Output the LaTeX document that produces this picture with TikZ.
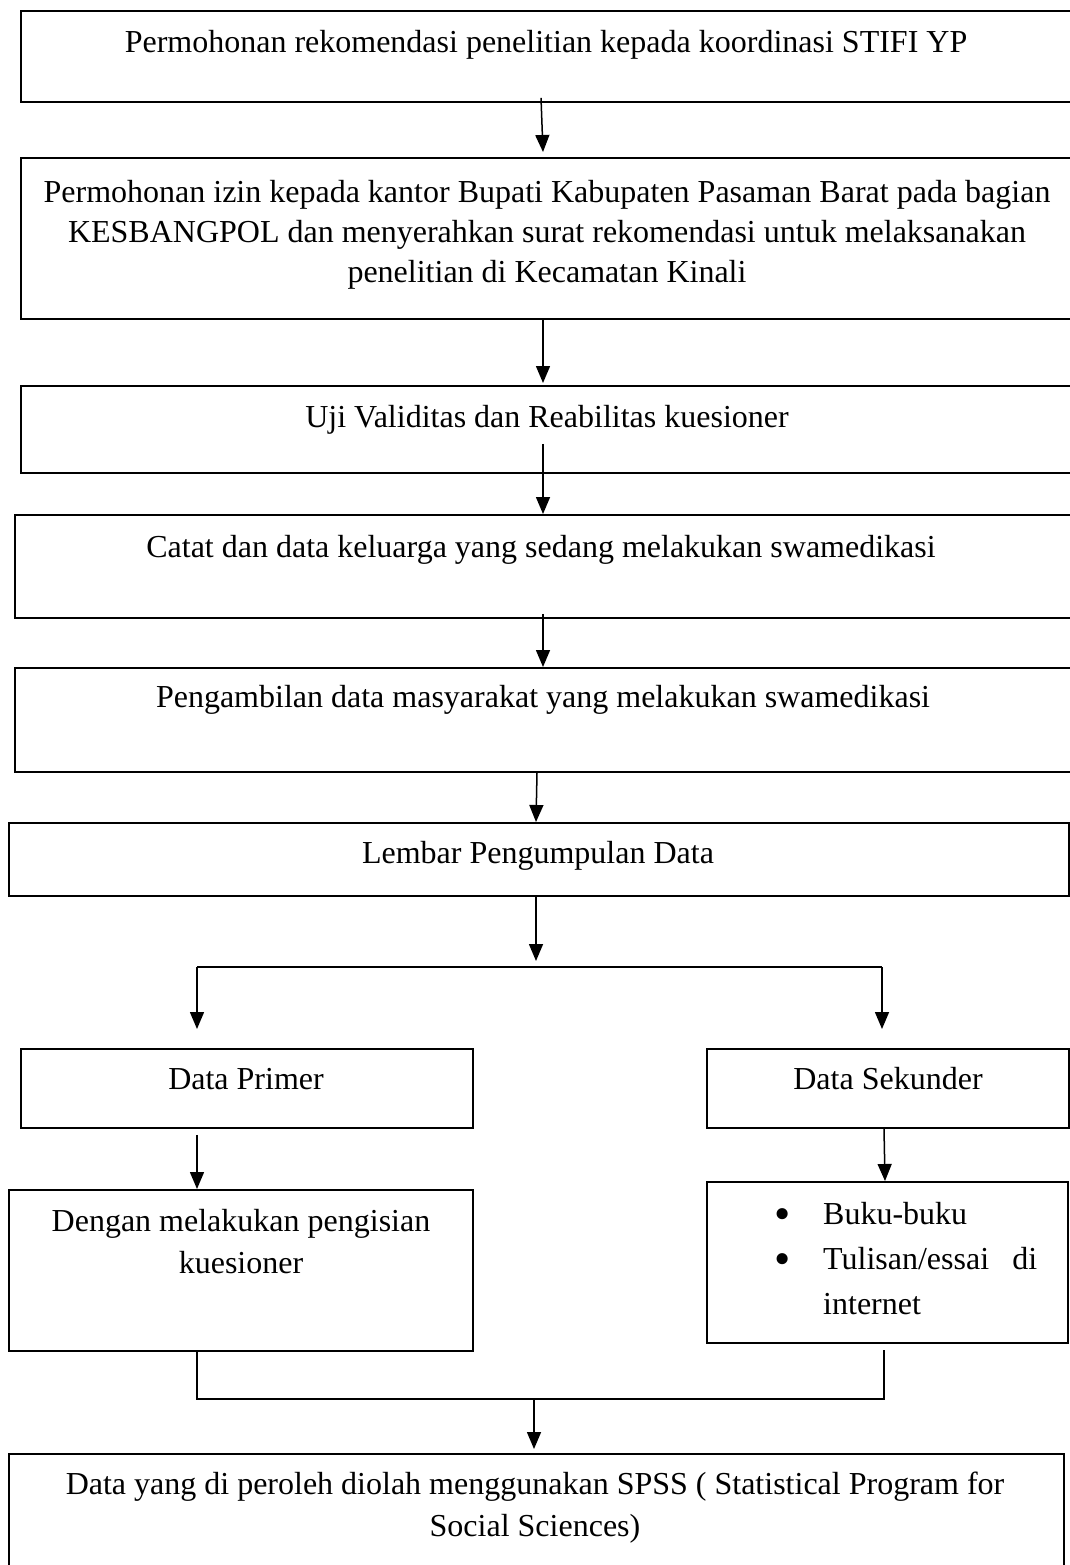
\documentclass[tikz,border=0pt]{standalone}
\usepackage{fontspec}
\setmainfont{Liberation Serif}
\usetikzlibrary{arrows.meta,calc}
\newcommand\mybul{\makebox[48pt][l]{\hspace*{-1pt}\raisebox{-5pt}{\scalebox{1.45}{•}}}}
\begin{document}
\begin{tikzpicture}[x=1pt,y=-1pt,
  box/.style={draw, line width=1.8pt, rectangle, inner sep=0pt, anchor=north west},
  lbl/.style={anchor=base, inner sep=0pt, font=\fontsize{32}{40}\selectfont},
  arr/.style={line width=1.5pt, -{Triangle[length=17pt,width=14pt]}},
  ln/.style={line width=1.5pt}]
\useasboundingbox (0,0) rectangle (1070,1565);
\fill[white] (0,0) rectangle (1070,1565);

% boxes
\node[box, minimum width=1055pt, minimum height=91pt]  (b1) at (20,10) {};
\node[box, minimum width=1055pt, minimum height=161pt] (b2) at (20,157) {};
\node[box, minimum width=1055pt, minimum height=87pt]  (b3) at (20,385) {};
\node[box, minimum width=1061pt, minimum height=103pt] (b4) at (14,514) {};
\node[box, minimum width=1061pt, minimum height=104pt] (b5) at (14,667) {};
\node[box, minimum width=1060pt, minimum height=73pt]  (b6) at (8,822) {};
\node[box, minimum width=452pt, minimum height=79pt]   (bP) at (20,1048) {};
\node[box, minimum width=362pt, minimum height=79pt]   (bS) at (706,1048) {};
\node[box, minimum width=464pt, minimum height=161pt]  (bD) at (8,1189) {};
\node[box, minimum width=361pt, minimum height=161pt]  (bB) at (706,1181) {};
\node[box, minimum width=1055pt, minimum height=130pt] (bF) at (8,1453) {};

% texts
\node[lbl] (t1) at (546,53) {Permohonan rekomendasi penelitian kepada koordinasi STIFI YP};
\node[lbl] (t2) at (547,202) {\begin{tabular}[t]{@{}c@{}}Permohonan izin kepada kantor Bupati Kabupaten Pasaman Barat pada bagian\\KESBANGPOL dan menyerahkan surat rekomendasi untuk melaksanakan\\penelitian di Kecamatan Kinali\end{tabular}};
\node[lbl] (t3) at (547,427) {Uji Validitas dan Reabilitas kuesioner};
\node[lbl] (t4) at (541,557) {Catat dan data keluarga yang sedang melakukan swamedikasi};
\node[lbl] (t5) at (543,707) {Pengambilan data masyarakat yang melakukan swamedikasi};
\node[lbl] (t6) at (538,863) {Lembar Pengumpulan Data};
\node[lbl] (tP) at (246,1089) {Data Primer};
\node[lbl] (tS) at (888,1089) {Data Sekunder};
\node[lbl, font=\fontsize{32}{42}\selectfont] (tD) at (241,1231) {\begin{tabular}[t]{@{}c@{}}Dengan melakukan pengisian\\kuesioner\end{tabular}};
\node[lbl, anchor=base west, font=\fontsize{32}{45}\selectfont] (tB) at (775,1224) {\begin{tabular}[t]{@{}l@{}l@{}}\mybul&Buku-buku\\\mybul&\makebox[214pt][s]{Tulisan/essai\hfill di}\\&internet\end{tabular}};
\node[lbl, font=\fontsize{32}{42}\selectfont] (tF) at (535,1494) {\begin{tabular}[t]{@{}c@{}}Data yang di peroleh diolah menggunakan SPSS ( Statistical Program for\\Social Sciences)\end{tabular}};

% junction coordinates
\coordinate (jT) at (536,967);
\coordinate (jL) at (197,967);
\coordinate (jR) at (882,967);
\coordinate (mL) at (197,1399);
\coordinate (mR) at (884,1399);
\coordinate (mC) at (534,1399);

% connectors
\draw[arr] ($(b1.south -| 541,0)+(0,-5)$) -- ($(b2.north -| 543,0)+(0,-5)$);
\draw[arr] (b2.south -| 543,0) -- ($(b3.north -| 543,0)+(0,-2)$);
\draw[arr] ($(b3.south -| 543,0)+(0,-30)$) -- (b4.north -| 543,0);
\draw[arr] ($(b4.south -| 543,0)+(0,-5)$) -- (b5.north -| 543,0);
\draw[arr] (b5.south -| 537,0) -- (b6.north -| 536,0);
\draw[arr] (b6.south -| 536,0) -- ($(jT)+(0,-6)$);
\draw[ln] (jL) -- (jR);
\draw[arr] (jL) -- ($(bP.north -| 197,0)+(0,-19)$);
\draw[arr] (jR) -- ($(bS.north -| 882,0)+(0,-19)$);
\draw[arr] ($(bP.south -| 197,0)+(0,6)$) -- (bD.north -| 197,0);
\draw[arr] (bS.south -| 884,0) -- (bB.north -| 885,0);
\draw[ln] (bD.south -| 197,0) -- (mL) -- (mR) -- ($(bB.south -| 884,0)+(0,6)$);
\draw[arr] (mC) -- ($(bF.north -| 534,0)+(0,-4)$);
\end{tikzpicture}
\end{document}
